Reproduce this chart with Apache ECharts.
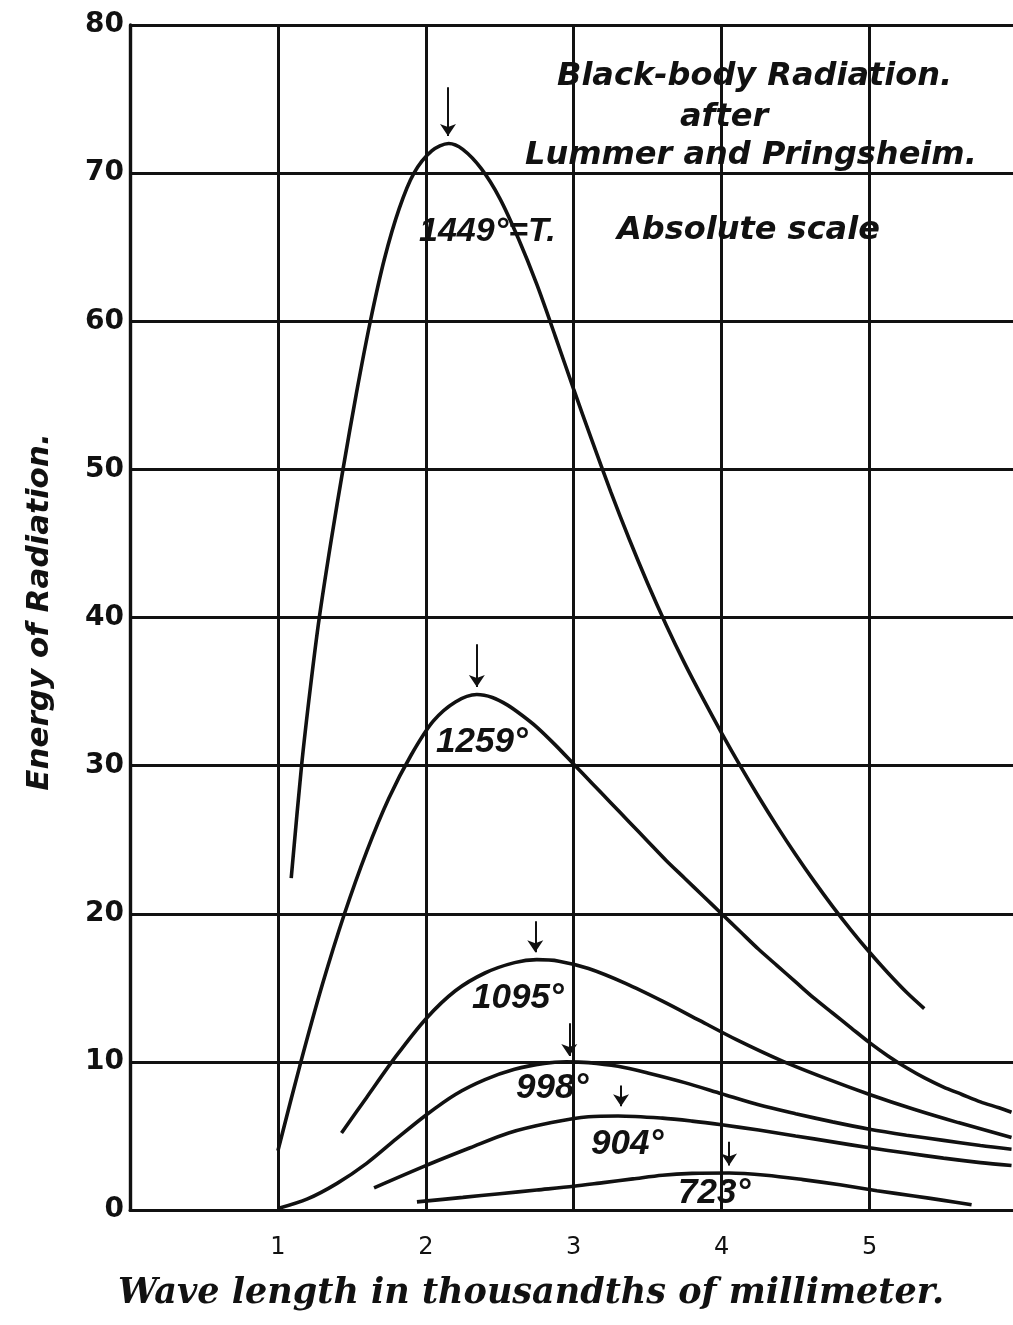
<!DOCTYPE html>
<html>
<head>
<meta charset="utf-8">
<script src="https://cdn.jsdelivr.net/npm/echarts@6/dist/echarts.min.js"></script>
<style>
  html, body { margin: 0; padding: 0; background: #ffffff; }
  #chart { width: 1013px; height: 1325px; }
</style>
</head>
<body>
<div id="chart"></div>
<script>
// ---- Data ----
const xTicks = [1, 2, 3, 4, 5];
const yTicks = [0, 10, 20, 30, 40, 50, 60, 70, 80];

const curve1449 = [[1.09,22.4],[1.16,30],[1.22,35.3],[1.28,40],[1.36,45.2],[1.44,50],[1.53,55.1],[1.625,60],[1.72,64.2],[1.82,67.6],[1.92,70],[2.04,71.5],[2.155,72],[2.25,71.6],[2.375,70.3],[2.5,68.3],[2.625,65.6],[2.75,62.5],[2.875,59.0],[3.0,55.4],[3.125,51.9],[3.25,48.5],[3.375,45.3],[3.5,42.3],[3.625,39.5],[3.75,36.9],[3.875,34.5],[4.0,32.2],[4.125,30.0],[4.25,27.9],[4.375,25.9],[4.5,24.0],[4.625,22.2],[4.75,20.5],[4.875,18.9],[5.0,17.4],[5.125,16.0],[5.25,14.7],[5.37,13.6]];
const curve1259 = [[1.0,4],[1.15,9.8],[1.3,15.2],[1.45,20.0],[1.6,24.2],[1.75,27.8],[1.9,30.7],[2.05,33.0],[2.2,34.3],[2.345,34.8],[2.45,34.6],[2.55,34.1],[2.65,33.4],[2.75,32.6],[2.875,31.4],[3.0,30.1],[3.125,28.8],[3.25,27.5],[3.375,26.2],[3.5,24.9],[3.625,23.6],[3.75,22.4],[3.875,21.2],[4.0,20.0],[4.125,18.8],[4.25,17.6],[4.375,16.5],[4.5,15.4],[4.625,14.3],[4.75,13.3],[4.875,12.3],[5.0,11.3],[5.125,10.4],[5.25,9.6],[5.375,8.9],[5.5,8.3],[5.625,7.8],[5.75,7.3],[5.875,6.9],[5.96,6.6]];
const curve1095 = [[1.43,5.2],[1.6,7.6],[1.8,10.4],[2.0,12.9],[2.2,14.8],[2.4,16.0],[2.6,16.7],[2.75,16.9],[2.9,16.8],[3.1,16.3],[3.35,15.3],[3.6,14.1],[3.85,12.8],[4.1,11.5],[4.4,10.1],[4.7,8.9],[5.0,7.8],[5.3,6.8],[5.6,5.9],[5.96,4.9]];
const curve998  = [[1.0,0.1],[1.2,0.75],[1.4,1.8],[1.6,3.15],[1.8,4.8],[2.0,6.4],[2.2,7.8],[2.4,8.8],[2.6,9.5],[2.8,9.9],[2.95,10.0],[3.1,9.95],[3.3,9.7],[3.5,9.25],[3.75,8.6],[4.0,7.85],[4.25,7.1],[4.5,6.5],[4.75,5.95],[5.0,5.45],[5.25,5.05],[5.5,4.7],[5.75,4.35],[5.96,4.1]];
const curve904  = [[1.65,1.5],[2.0,3.0],[2.3,4.2],[2.56,5.2],[2.85,5.9],[3.1,6.3],[3.3,6.35],[3.6,6.2],[3.8,6.0],[4.0,5.75],[4.25,5.4],[4.5,5.0],[4.75,4.6],[5.0,4.2],[5.25,3.85],[5.5,3.5],[5.75,3.2],[5.96,3.0]];
const curve723  = [[1.94,0.55],[2.25,0.85],[2.5,1.1],[2.75,1.35],[3.0,1.6],[3.2,1.85],[3.4,2.1],[3.6,2.35],[3.8,2.47],[4.05,2.5],[4.3,2.35],[4.55,2.05],[4.8,1.7],[5.05,1.3],[5.3,0.95],[5.5,0.65],[5.69,0.35]];

const curveNames = ['1449°', '1259°', '1095°', '998°', '904°', '723°'];
const curves = [curve1449, curve1259, curve1095, curve998, curve904, curve723];

// peak arrows: wavelength, top of arrow, tip of arrow
const arrowX   = [2.15, 2.345, 2.74, 2.97, 3.32, 4.05];
const arrowTop = [75.8, 38.2, 19.5, 12.6, 8.4, 4.6];
const arrowTip = [72.5, 35.3, 17.4, 10.4, 7.0, 3.0];

// ---- Chart ----
const INK = '#111111';
const sans = "'Liberation Sans', 'DejaVu Sans', sans-serif";
const dsans = "'DejaVu Sans', 'Liberation Sans', sans-serif";
const chart = echarts.init(document.getElementById('chart'), null, { renderer: 'canvas' });

const series = curves.map((c, i) => ({
  name: curveNames[i],
  type: 'line',
  data: c,
  smooth: 0.3,
  showSymbol: false,
  symbol: 'none',
  lineStyle: { color: INK, width: 3.6 },
  silent: true,
  animation: false,
  z: 5,
  markLine: {
    silent: true,
    animation: false,
    symbol: ['none', 'arrow'],
    symbolSize: 12,
    label: { show: false },
    lineStyle: { color: INK, width: 2, type: 'solid' },
    data: [[
      { coord: [arrowX[i], arrowTop[i]] },
      { coord: [arrowX[i], arrowTip[i]] }
    ]]
  }
}));

const option = {
  backgroundColor: '#ffffff',
  animation: false,
  grid: { left: 130, right: 0, top: 25, bottom: 115, containLabel: false },
  xAxis: {
    type: 'value',
    min: 0, max: 5.97, interval: 1,
    axisLine: { show: true, lineStyle: { color: INK, width: 3 } },
    axisTick: { show: false },
    splitLine: { show: true, showMaxLine: false, lineStyle: { color: INK, width: 3 } },
    axisLabel: {
      color: INK, fontSize: 24, fontFamily: "'DejaVu Sans', sans-serif", margin: 26,
      showMaxLabel: false,
      formatter: v => (xTicks.indexOf(v) >= 0 ? String(v) : '')
    }
  },
  yAxis: {
    type: 'value',
    min: 0, max: 80, interval: 10,
    axisLine: { show: true, lineStyle: { color: INK, width: 3.4 } },
    axisTick: { show: false },
    splitLine: { show: true, lineStyle: { color: INK, width: 3 } },
    axisLabel: {
      color: INK, fontSize: 28, fontWeight: 'bold', fontFamily: "'DejaVu Sans', sans-serif", margin: 6,
      formatter: v => (yTicks.indexOf(v) >= 0 ? String(v) : '')
    }
  },
  series: series,
  graphic: [
    { type: 'text', left: 557, top: 61, style: { text: 'Black-body Radiation.', fill: INK, font: 'italic bold 32px ' + dsans } },
    { type: 'text', left: 680, top: 102, style: { text: 'after', fill: INK, font: 'italic bold 32px ' + dsans } },
    { type: 'text', left: 525, top: 140, style: { text: 'Lummer and Pringsheim.', fill: INK, font: 'italic bold 32px ' + dsans } },
    { type: 'text', left: 419, top: 215, style: { text: '1449°=T.', fill: INK, font: 'italic bold 34px ' + sans } },
    { type: 'text', left: 617, top: 215, style: { text: 'Absolute scale', fill: INK, font: 'italic bold 32px ' + dsans } },
    { type: 'text', left: 436, top: 725, style: { text: '1259°', fill: INK, font: 'italic bold 35px ' + sans } },
    { type: 'text', left: 472, top: 981, style: { text: '1095°', fill: INK, font: 'italic bold 35px ' + sans } },
    { type: 'text', left: 516, top: 1071, style: { text: '998°', fill: INK, font: 'italic bold 35px ' + sans } },
    { type: 'text', left: 591, top: 1127, style: { text: '904°', fill: INK, font: 'italic bold 35px ' + sans } },
    { type: 'text', left: 678, top: 1176, style: { text: '723°', fill: INK, font: 'italic bold 35px ' + sans } },
    { type: 'text', x: 40, y: 612, rotation: Math.PI / 2,
      style: { text: 'Energy of Radiation.', fill: INK, font: 'italic bold 31px ' + dsans, textAlign: 'center', textVerticalAlign: 'middle' } },
    { type: 'text', left: 118, top: 1276, style: { text: 'Wave length in thousandths of millimeter.', fill: INK, font: 'italic bold 35px "DejaVu Serif", serif' } }
  ]
};
chart.setOption(option);
</script>
</body>
</html>
